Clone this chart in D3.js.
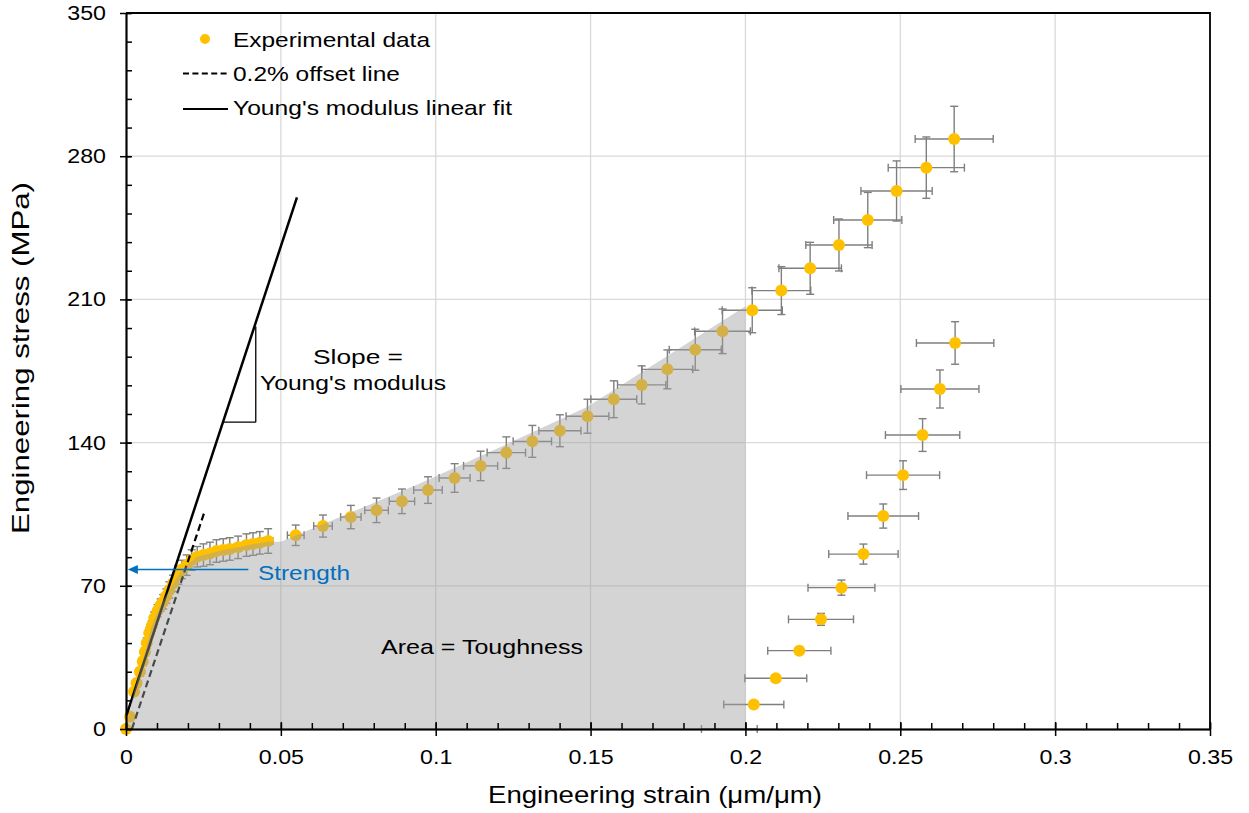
<!DOCTYPE html>
<html><head><meta charset="utf-8">
<script src="https://cdn.jsdelivr.net/npm/d3@7"></script>
<style>body{margin:0;background:#fff} svg{display:block} text{font-family:"Liberation Sans",Arial,sans-serif}</style>
</head><body><svg id="c" width="1249" height="813"></svg>
<script>
// ---- data ----
const loadStrain = [0,0.0013,0.0026,0.0034,0.0045,0.0054,0.0061,0.0067,0.0075,0.0083,0.0091,0.0102,0.0112,0.012,0.013,0.014,0.0152,0.0169,0.018,0.0196,0.0212,0.023,0.025,0.0271,0.0292,0.0314,0.0335,0.0362,0.0389,0.041,0.0432,0.0459,
  0.0548,0.0636,0.0726,0.0809,0.0891,0.0975,0.1061,0.1145,0.1228,0.1312,0.1401,0.149,0.1575,0.1665,0.1748,0.1838,0.1926,0.2022,0.2116,0.2209,0.2302,0.2395,0.2488,0.2584,0.2674];
const loadStress = [0,6,18.2,22.5,28,33,37.6,42,46.9,50.3,54.2,57.8,60.6,62.2,65,68,71.2,75.3,78,80.1,82.6,84.2,85,85.8,87,87.5,88,88.8,89.9,90.4,91,91.9,
  94.7,99.2,103.6,106.9,111.3,116.8,122.7,128.6,135.1,140.6,145.8,152.9,161.2,168.2,175.8,185.4,194.4,204.7,214.3,225.2,236.6,248.8,263,274.4,288.4];
const loadStrainErr = [0,0.0003,0.0003,0.0003,0.0004,0.0004,0.0004,0.0004,0.0005,0.0005,0.0005,0.0006,0.0006,0.0006,0.0007,0.0007,0.0008,0.0008,0.0009,0.0009,0.001,0.001,0.001,0.0011,0.0011,0.0012,0.0012,0.0013,0.0013,0.0014,0.0014,0.0015,
  0.0027,0.003,0.0033,0.0038,0.0041,0.0046,0.005,0.0055,0.0062,0.0062,0.0068,0.0069,0.0074,0.0078,0.0082,0.0084,0.009,0.0097,0.0095,0.0101,0.0107,0.011,0.0115,0.0123,0.0126];
const loadStressErr = [0,1,1.5,1.5,2,2,2,2.5,2.5,2.5,3,3,3,3.5,3.5,4,4,4.5,4.5,5,5,5,5.5,5.5,5.5,5.5,5.5,5.5,5.5,5.5,5.5,6,
  5,5.4,5.7,6,6,6.5,7,7.2,7.7,7.8,7.8,8.3,9,9.3,9.5,10,10.9,11,11.7,12.7,12.7,13.5,14.7,15,16];

const unloadStrain = [0.2677,0.2628,0.2572,0.2509,0.2445,0.2381,0.231,0.2244,0.2174,0.2098,0.2027,0.1948];
const unloadStress = [188.7,166.2,143.7,124.1,104.1,85.5,69.1,53.6,38.3,24.8,12,0];
const unloadStrainErr = [0.0125,0.0126,0.012,0.0118,0.0114,0.0112,0.0108,0.0105,0.0102,0.01,0.0097,0.009];
const unloadStressErr = [10.4,9.3,8,7,5.9,4.9,3.7,2.9,1.5,0.8,0.5,0];

const fitStrain = [0.0002,0.0552];
const fitStress = [6.9,259.9];
const offsetStrain = [0.0019,0.0252];
const offsetStress = [0,105.5];

const areaStrain = [0,0.0026,0.0054,0.0083,0.0112,0.014,0.0169,0.0196,0.023,0.0271,0.0314,0.0362,0.041,0.0459,0.05,0.0938,0.1206,0.149,0.2,0.2];
const areaStress = [0,18.2,33,50.3,60.6,68,75.3,80.1,84.2,85.8,87.5,88.8,90.4,91.5,91.5,119.3,137.6,157.5,206.6,0];

const strengthStress = 78;
const strengthArrow = [0.0395,0.0006];
const slopeTriangle = {x0:0.0313, x1:0.0419, y0:150};

const xTicks = [0,0.05,0.1,0.15,0.2,0.25,0.3,0.35];
const xTickLabels = ["0","0.05","0.1","0.15","0.2","0.25","0.3","0.35"];
const yTicks = [0,70,140,210,280,350];
const xMinor = d3.range(0,0.3501,0.01);
const yMinor = d3.range(0,350.1,14);

// ---- chart ----
const svg = d3.select("#c");
const x = d3.scaleLinear().domain([0,0.35]).range([126,1210]);
const y = d3.scaleLinear().domain([0,350]).range([729,13]);
const fitY = s => fitStress[0] + (fitStress[1]-fitStress[0])/(fitStrain[1]-fitStrain[0])*(s-fitStrain[0]);

// grid
const grid = svg.append("g").attr("stroke","#d9d9d9").attr("stroke-width",1.3);
grid.selectAll("line.v").data(xTicks.slice(1)).join("line").attr("class","v")
  .attr("x1",d=>x(d)).attr("x2",d=>x(d)).attr("y1",y(0)).attr("y2",y(350));
grid.selectAll("line.h").data(yTicks.slice(1)).join("line").attr("class","h")
  .attr("x1",x(0)).attr("x2",x(0.35)).attr("y1",d=>y(d)).attr("y2",d=>y(d));

function drawSeries(sx, sy, ex, ey, showMarker){
  const pts = sx.map((s,i)=>({s, v:sy[i], es:ex[i], ev:ey[i]}));
  const eb = svg.append("g").attr("stroke","#7f7f7f").attr("stroke-width",1.4).attr("fill","none");
  const cap = 4;
  pts.forEach(p=>{
    if(p.es>0){
      eb.append("line").attr("x1",x(p.s-p.es)).attr("x2",x(p.s+p.es)).attr("y1",y(p.v)).attr("y2",y(p.v));
      [p.s-p.es,p.s+p.es].forEach(e=>eb.append("line").attr("x1",x(e)).attr("x2",x(e)).attr("y1",y(p.v)-cap).attr("y2",y(p.v)+cap));
    }
    if(p.ev>0){
      eb.append("line").attr("x1",x(p.s)).attr("x2",x(p.s)).attr("y1",y(p.v-p.ev)).attr("y2",y(p.v+p.ev));
      [p.v-p.ev,p.v+p.ev].forEach(e=>eb.append("line").attr("x1",x(p.s)-cap).attr("x2",x(p.s)+cap).attr("y1",y(e)).attr("y2",y(e)));
    }
  });
  svg.append("g").selectAll("circle").data(pts.filter(showMarker)).join("circle")
    .attr("cx",p=>x(p.s)).attr("cy",p=>y(p.v)).attr("r",6).attr("fill","#ffc000");
}
drawSeries(loadStrain, loadStress, loadStrainErr, loadStressErr, ()=>true);
drawSeries(unloadStrain, unloadStress, unloadStrainErr, unloadStressErr, p=>p.v>0);

// fit lines
const line = d3.line().x(d=>x(d[0])).y(d=>y(d[1]));
svg.append("path").attr("d",line(fitStrain.map((s,i)=>[s,fitStress[i]])))
  .attr("stroke","#000").attr("stroke-width",2.5).attr("fill","none");
svg.append("path").attr("d",line(offsetStrain.map((s,i)=>[s,offsetStress[i]])))
  .attr("stroke","#000").attr("stroke-width",2.2).attr("stroke-dasharray","7,4").attr("fill","none");

// toughness area
svg.append("path").attr("d",line(areaStrain.map((s,i)=>[s,areaStress[i]]))+"Z")
  .attr("fill","rgb(160,160,160)").attr("fill-opacity",0.45).attr("stroke","none");

// slope triangle
const tri = svg.append("g").attr("stroke","#000").attr("stroke-width",1.3);
tri.append("line").attr("x1",x(slopeTriangle.x0)).attr("x2",x(slopeTriangle.x1)).attr("y1",y(slopeTriangle.y0)).attr("y2",y(slopeTriangle.y0));
tri.append("line").attr("x1",x(slopeTriangle.x1)).attr("x2",x(slopeTriangle.x1)).attr("y1",y(slopeTriangle.y0)).attr("y2",y(fitY(slopeTriangle.x1)-2));

// axes
const fs = 20, stretch = 1.16;
const gx = svg.append("g").attr("transform",`translate(0,${y(0)})`);
gx.call(d3.axisBottom(x).tickValues(xTicks).tickFormat((d,i)=>xTickLabels[i]).tickSizeInner(7).tickSizeOuter(0).tickPadding(14));
gx.append("g").call(d3.axisBottom(x).tickValues(xTicks).tickFormat("").tickSizeInner(-7).tickSizeOuter(0));
gx.append("g").call(d3.axisBottom(x).tickValues(xMinor).tickFormat("").tickSizeInner(-6).tickSizeOuter(0));
const gy = svg.append("g").attr("transform",`translate(${x(0)},0)`);
gy.call(d3.axisLeft(y).tickValues(yTicks).tickSizeInner(6).tickSizeOuter(0).tickPadding(14));
gy.append("g").call(d3.axisLeft(y).tickValues(yTicks).tickFormat("").tickSizeInner(-5).tickSizeOuter(0));
gy.append("g").call(d3.axisLeft(y).tickValues(yMinor).tickFormat("").tickSizeInner(-6).tickSizeOuter(0));
svg.selectAll(".tick text").attr("font-size",fs).attr("fill","#000").attr("font-family","Liberation Sans, Arial, sans-serif")
  .each(function(){ const w=this.getComputedTextLength(); d3.select(this).attr("textLength",w*stretch).attr("lengthAdjust","spacingAndGlyphs"); });
svg.selectAll(".domain,.tick line").attr("stroke","#000").attr("stroke-width",1.5);
// top/right frame
svg.append("path").attr("d",`M${x(0)},${y(350)}H${x(0.35)}V${y(0)}`).attr("stroke","#000").attr("stroke-width",1.8).attr("fill","none");

// axis titles
svg.append("text").attr("x",655).attr("y",803).attr("text-anchor","middle").attr("font-size",24)
  .attr("textLength",334).attr("lengthAdjust","spacingAndGlyphs").text("Engineering  strain (μm/μm)");
svg.append("text").attr("transform","translate(29,358) rotate(-90)").attr("text-anchor","middle").attr("font-size",24)
  .attr("textLength",352).attr("lengthAdjust","spacingAndGlyphs").text("Engineering  stress (MPa)");

// strength arrow
const blue = "#0070c0";
const ay = y(strengthStress), ax0 = x(strengthArrow[1]);
svg.append("line").attr("x1",x(strengthArrow[0])).attr("x2",ax0+8).attr("y1",ay).attr("y2",ay)
  .attr("stroke",blue).attr("stroke-width",1.6);
svg.append("path").attr("d",`M${ax0},${ay}L${ax0+10},${ay-4.5}L${ax0+10},${ay+4.5}Z`).attr("fill",blue);
svg.append("text").attr("x",258).attr("y",580).attr("font-size",21).attr("fill",blue)
  .attr("textLength",92).attr("lengthAdjust","spacingAndGlyphs").text("Strength");

// annotations
svg.append("text").attr("x",358).attr("y",364).attr("text-anchor","middle").attr("font-size",21)
  .attr("textLength",90).attr("lengthAdjust","spacingAndGlyphs").text("Slope =");
svg.append("text").attr("x",353).attr("y",390).attr("text-anchor","middle").attr("font-size",21)
  .attr("textLength",186).attr("lengthAdjust","spacingAndGlyphs").text("Young's modulus");
svg.append("text").attr("x",482).attr("y",654).attr("text-anchor","middle").attr("font-size",21)
  .attr("textLength",202).attr("lengthAdjust","spacingAndGlyphs").text("Area = Toughness");

// legend
const lg = svg.append("g");
lg.append("circle").attr("cx",205).attr("cy",39).attr("r",5).attr("fill","#ffc000");
lg.append("line").attr("x1",183).attr("x2",228).attr("y1",73.5).attr("y2",73.5).attr("stroke","#000").attr("stroke-width",2).attr("stroke-dasharray","6,3.4");
lg.append("line").attr("x1",183).attr("x2",228).attr("y1",109).attr("y2",109).attr("stroke","#000").attr("stroke-width",2);
const legendLabels = ["Experimental data","0.2% offset line","Young's modulus linear fit"];
const legendLen = [197,167,279];
const legendBase = [47,81,115];
lg.selectAll("text").data(legendLabels).join("text").attr("x",233).attr("y",(d,i)=>legendBase[i])
  .attr("font-size",21).attr("textLength",(d,i)=>legendLen[i]).attr("lengthAdjust","spacingAndGlyphs").text(d=>d);
</script></body></html>
